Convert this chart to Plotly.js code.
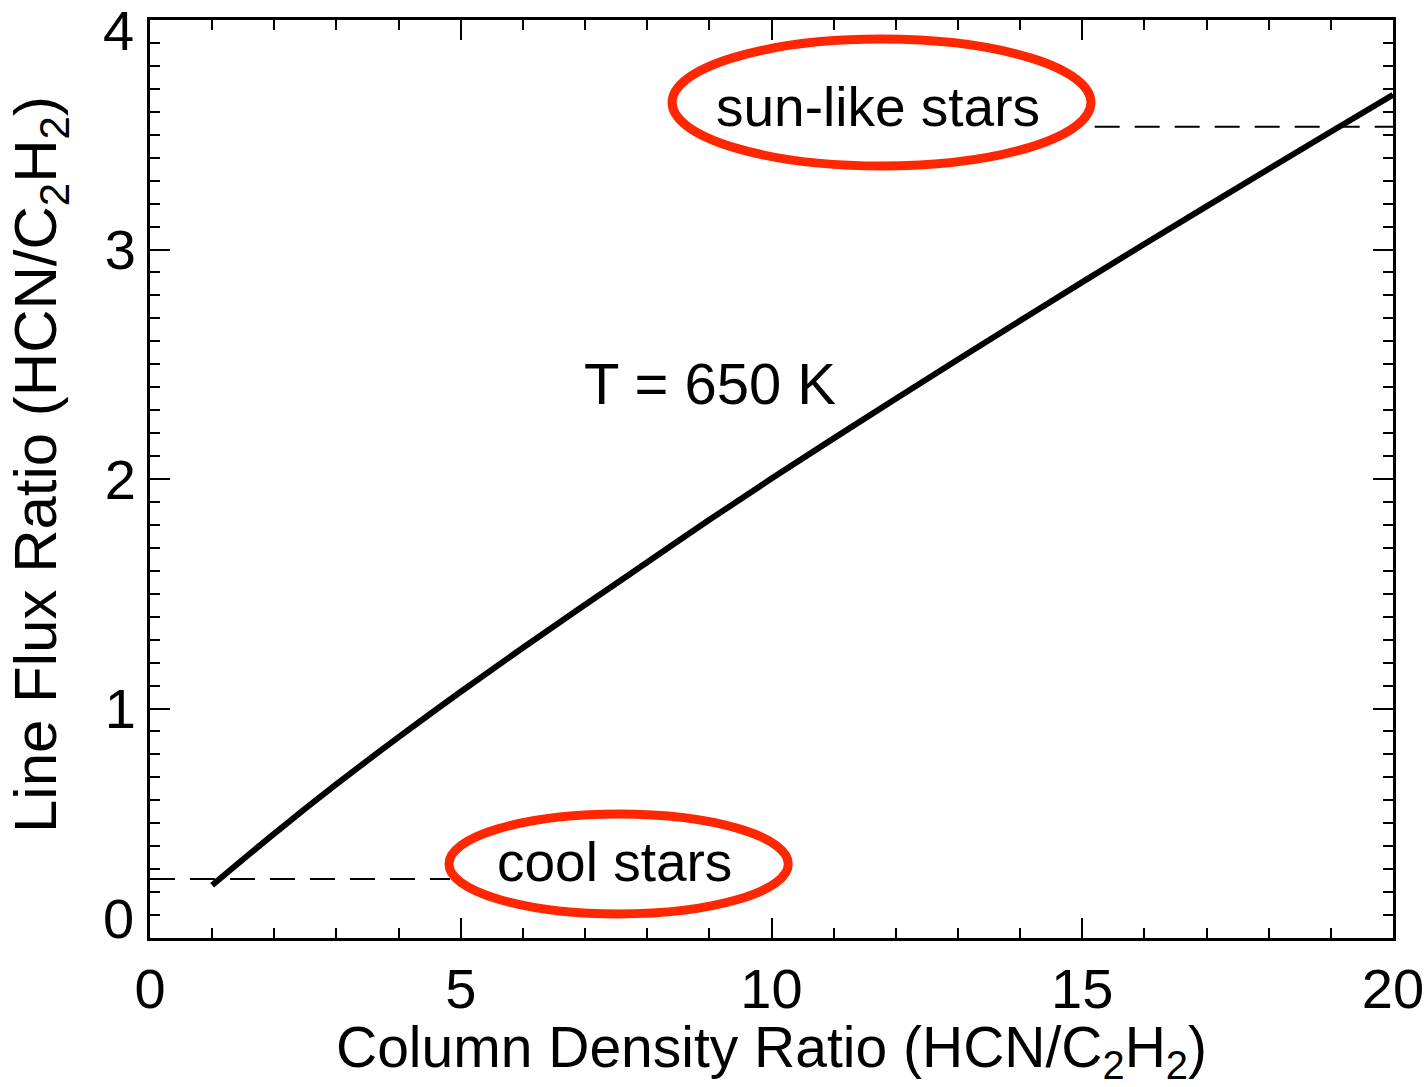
<!DOCTYPE html>
<html>
<head>
<meta charset="utf-8">
<script src="https://cdn.plot.ly/plotly-3.0.1.min.js"></script>
<style>html,body{margin:0;padding:0;background:#fff;}#chart{width:1426px;height:1087px;}</style>
</head>
<body>
<div id="chart"></div>
<script>
// Model curve: line flux ratio vs column density ratio (T = 650 K)
const columnDensityRatio = [1, 2, 3, 4, 5, 6, 7, 8, 9, 10, 11, 12, 13, 14, 15, 16, 17, 18, 19, 20];
const lineFluxRatio = [0.23, 0.455, 0.67, 0.875, 1.073, 1.265, 1.452, 1.637, 1.822, 2.002, 2.177, 2.35, 2.521, 2.69, 2.858, 3.024, 3.188, 3.351, 3.513, 3.674];

// Observed ratios (dashed levels)
const coolStarsX = [0, 4.83];
const coolStarsY = [0.257, 0.257];
const sunLikeX = [15.2, 20];
const sunLikeY = [3.535, 3.535];

// Highlight ellipses (data coordinates)
const sunEllipse = {x0: 8.40, x1: 15.14, y0: 3.364, y1: 3.917};
const coolEllipse = {x0: 4.81, x1: 10.27, y0: 0.105, y1: 0.540};

// Tick labels
const yTickVals = [0, 1, 2, 3, 4];
const yTickText = ['', '1', '2', '3', ''];
const xTickVals = [0, 5, 10, 15, 20];
const xTickText = ['0', '5', '10', '15', '20'];

const FONT = 'Liberation Sans, Arial, Helvetica, sans-serif';
const RED = 'rgb(255,38,0)';

const traces = [
  {x: coolStarsX, y: coolStarsY, mode: 'lines', line: {color: '#000', width: 2, dash: '25px,15px'}, hoverinfo: 'skip'},
  {x: sunLikeX, y: sunLikeY, mode: 'lines', line: {color: '#000', width: 2, dash: '25px,15px'}, hoverinfo: 'skip'},
  {x: columnDensityRatio, y: lineFluxRatio, mode: 'lines', line: {color: '#000', width: 6, shape: 'spline'}}
];

const layout = {
  width: 1426, height: 1087,
  margin: {l: 150, r: 33, t: 20, b: 149},
  paper_bgcolor: '#fff', plot_bgcolor: '#fff',
  showlegend: false,
  font: {family: FONT, size: 56, color: '#000'},
  xaxis: {
    range: [0, 20], showgrid: false, zeroline: false,
    showline: true, linecolor: '#000', linewidth: 3, mirror: 'allticks',
    ticks: 'inside', ticklen: 20, tickwidth: 2, tickcolor: '#000',
    tickvals: xTickVals, ticktext: xTickText,
    tickfont: {family: FONT, size: 56, color: '#000'},
    minor: {dtick: 1, ticks: 'inside', ticklen: 10, tickwidth: 2, tickcolor: '#000', showgrid: false},
    title: {text: 'Column Density Ratio (HCN/C<sub>2</sub>H<sub>2</sub>)', font: {family: FONT, size: 57, color: '#000'}, standoff: 4}
  },
  yaxis: {
    range: [0, 4], showgrid: false, zeroline: false,
    showline: true, linecolor: '#000', linewidth: 3, mirror: 'allticks',
    ticks: 'inside', ticklen: 20, tickwidth: 2, tickcolor: '#000',
    tickvals: yTickVals, ticktext: yTickText,
    tickfont: {family: FONT, size: 56, color: '#000'},
    minor: {dtick: 0.1, ticks: 'inside', ticklen: 10, tickwidth: 2, tickcolor: '#000', showgrid: false}
  },
  shapes: [
    {type: 'circle', xref: 'x', yref: 'y', x0: sunEllipse.x0, x1: sunEllipse.x1, y0: sunEllipse.y0, y1: sunEllipse.y1, line: {color: RED, width: 9}},
    {type: 'circle', xref: 'x', yref: 'y', x0: coolEllipse.x0, x1: coolEllipse.x1, y0: coolEllipse.y0, y1: coolEllipse.y1, line: {color: RED, width: 9}}
  ],
  annotations: [
    {x: 0, y: 0.5, xref: 'paper', yref: 'paper', text: 'Line Flux Ratio (HCN/C<sub>2</sub>H<sub>2</sub>)', textangle: -90, showarrow: false, xanchor: 'center', yanchor: 'middle', xshift: -110, yshift: 14, font: {family: FONT, size: 60, color: '#000'}},
    {x: 0, y: 0, xref: 'paper', yref: 'y', text: '0', showarrow: false, xanchor: 'right', yanchor: 'middle', xshift: -14, yshift: 20, font: {family: FONT, size: 56, color: '#000'}},
    {x: 0, y: 4, xref: 'paper', yref: 'y', text: '4', showarrow: false, xanchor: 'right', yanchor: 'middle', xshift: -14, yshift: -10, font: {family: FONT, size: 56, color: '#000'}},
    {x: 9.01, y: 2.414, xref: 'x', yref: 'y', text: 'T = 650 K', showarrow: false, xanchor: 'center', yanchor: 'middle', font: {family: FONT, size: 58, color: '#000'}},
    {x: 11.71, y: 3.62, xref: 'x', yref: 'y', text: 'sun-like stars', showarrow: false, xanchor: 'center', yanchor: 'middle', font: {family: FONT, size: 55, color: '#000'}},
    {x: 7.47, y: 0.33, xref: 'x', yref: 'y', text: 'cool stars', showarrow: false, xanchor: 'center', yanchor: 'middle', font: {family: FONT, size: 55, color: '#000'}}
  ]
};

Plotly.newPlot('chart', traces, layout, {staticPlot: true, displayModeBar: false});
</script>
</body>
</html>
